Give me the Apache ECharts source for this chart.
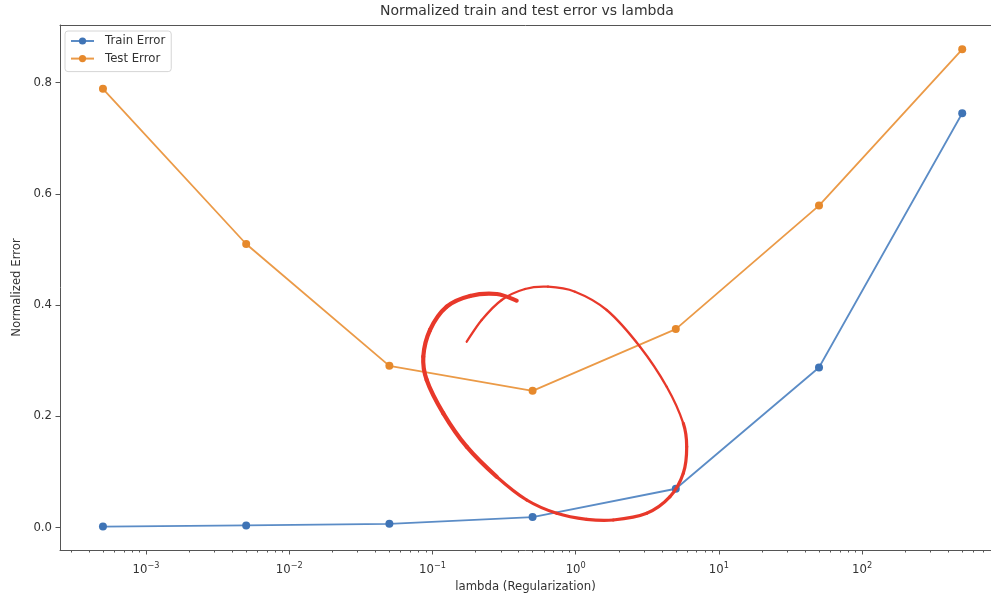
<!DOCTYPE html>
<html>
<head>
<meta charset="utf-8">
<title>Normalized train and test error vs lambda</title>
<script src="https://cdn.jsdelivr.net/npm/echarts@6/dist/echarts.min.js"></script>
<style>
  html, body { margin: 0; padding: 0; background: #ffffff; }
  #chart { width: 991px; height: 595px; }
</style>
</head>
<body>
<div id="chart"></div>
<script>
// Regularization strengths and the normalized errors measured at each one
const lambdas = [5e-4, 5e-3, 5e-2, 5e-1, 5, 50, 500];
const trainError = [0.002, 0.004, 0.007, 0.019, 0.070, 0.288, 0.745];
const testError = [0.789, 0.510, 0.291, 0.246, 0.357, 0.579, 0.860];

// Axis tick values
const yTicks = [0, 0.2, 0.4, 0.6, 0.8];
const xMajorTicks = [1e-3, 1e-2, 1e-1, 1, 10, 100];
const minorMultipliers = [2, 3, 4, 5, 6, 7, 8, 9];

// visible log-axis extent (in decades); the plot runs off the right edge of the page
const xMin = Math.pow(10, -3.601);
const xMax = Math.pow(10, 2.900);
const yMin = -0.0401;
const yMax = 0.9037;

const xMinorTicks = [];
for (let e = -4; e <= 2; e++) {
  minorMultipliers.forEach(function (m) {
    const v = m * Math.pow(10, e);
    if (v > xMin && v < xMax) xMinorTicks.push(v);
  });
}

const toPairs = (xs, ys) => xs.map((x, i) => [x, ys[i]]);

const FONT = 'DejaVu Sans';
const TEXT = '#333333';
const SPINE = '#555555';

const chart = echarts.init(document.getElementById('chart'), null, { renderer: 'canvas' });

// hand-drawn red loop around the minimum of the test error
const RED = '#e8382a';
const loopPoints = [
  [466.7,341.7],[481.7,320],[501.7,300],[525,289],[548,286.7],[575,291.7],[606.7,310],[640,346.7],[666.7,386.7],[683.3,423.3],
  [686.7,446.7],[683.3,473.3],[670,496.7],[646.7,513.3],[613.3,520],[586.7,519.3],[556.7,513.3],[526.7,500],[496.7,476.7],
  [466.7,446.7],[443.3,413.3],[426.7,380],[423.3,356.7],[430,330],[446.7,306.7],[470,296],[496.7,294],[516.7,300.7]
];
// Catmull-Rom pieces through the pen points; pen width grows along the stroke
function loopPieces(from, to, width) {
  const P = loopPoints;
  const at = (i) => P[Math.max(0, Math.min(P.length - 1, i))];
  const pieces = [];
  for (let i = from; i < to; i++) {
    const p0 = at(i - 1), p1 = at(i), p2 = at(i + 1), p3 = at(i + 2);
    pieces.push({
      type: 'bezierCurve',
      z: 100,
      silent: true,
      shape: {
        x1: p1[0], y1: p1[1],
        x2: p2[0], y2: p2[1],
        cpx1: p1[0] + (p2[0] - p0[0]) / 6, cpy1: p1[1] + (p2[1] - p0[1]) / 6,
        cpx2: p2[0] - (p3[0] - p1[0]) / 6, cpy2: p2[1] - (p3[1] - p1[1]) / 6
      },
      style: { stroke: RED, lineWidth: width, fill: null, lineCap: 'round' }
    });
  }
  return pieces;
}

const option = {
  backgroundColor: '#ffffff',
  animation: false,
  title: {
    text: 'Normalized train and test error vs lambda',
    left: 527,
    top: 4,
    padding: 0,
    textAlign: 'center',
    textStyle: { fontFamily: FONT, fontSize: 14, fontWeight: 'normal', color: TEXT }
  },
  legend: {
    orient: 'vertical',
    left: 65,
    top: 31,
    padding: [3, 6, 6, 5],
    itemGap: 3.6,
    itemWidth: 23,
    itemHeight: 9,
    backgroundColor: '#ffffff',
    borderColor: '#d6d6d6',
    borderWidth: 1,
    borderRadius: 3,
    data: ['Train Error', 'Test Error'],
    textStyle: { fontFamily: FONT, fontSize: 11.7, color: TEXT, lineHeight: 14, padding: [0, 0, 0, 6] }
  },
  grid: {
    left: 60,
    top: 25,
    right: 0,
    bottom: 45,
    show: false,
    containLabel: false,
    outerBoundsMode: 'none'
  },
  xAxis: [
    {
      type: 'log',
      logBase: 10,
      min: xMin,
      max: xMax,
      position: 'bottom',
      name: 'lambda (Regularization)',
      nameLocation: 'middle',
      nameGap: 30,
      nameTextStyle: { fontFamily: FONT, fontSize: 11.7, color: TEXT },
      axisLine: { onZero: false, lineStyle: { color: SPINE, width: 1 } },
      axisTick: { show: true, length: 4.5, customValues: xMajorTicks, lineStyle: { color: SPINE } },
      axisLabel: {
        customValues: xMajorTicks,
        margin: 12,
        formatter: function (v) {
          const k = Math.round(Math.log10(v));
          return '{b|10}{s|' + (k < 0 ? '\u2212' : '') + Math.abs(k) + '}';
        },
        rich: {
          b: { fontFamily: FONT, fontSize: 11.7, color: TEXT },
          s: { fontFamily: FONT, fontSize: 8.2, color: TEXT, padding: [0, 0, 8, 0] }
        }
      },
      splitLine: { show: false },
      minorTick: { show: false }
    },
    {
      // minor decade ticks
      type: 'log',
      logBase: 10,
      min: xMin,
      max: xMax,
      position: 'bottom',
      axisLine: { show: false, onZero: false },
      axisTick: { show: true, length: 2.5, customValues: xMinorTicks, lineStyle: { color: SPINE } },
      axisLabel: { show: false },
      splitLine: { show: false }
    },
    {
      // top spine
      type: 'log',
      logBase: 10,
      min: xMin,
      max: xMax,
      position: 'top',
      axisLine: { show: true, onZero: false, lineStyle: { color: SPINE, width: 1 } },
      axisTick: { show: false },
      axisLabel: { show: false },
      splitLine: { show: false }
    }
  ],
  yAxis: {
    type: 'value',
    min: yMin,
    max: yMax,
    name: 'Normalized Error',
    nameLocation: 'middle',
    nameGap: 34,
    nameTextStyle: { fontFamily: FONT, fontSize: 11.7, color: TEXT },
    axisLine: { show: true, onZero: false, lineStyle: { color: SPINE, width: 1 } },
    axisTick: { show: true, length: 4.5, customValues: yTicks, lineStyle: { color: SPINE } },
    axisLabel: {
      customValues: yTicks,
      margin: 8,
      fontFamily: FONT,
      fontSize: 11.7,
      color: TEXT,
      formatter: (v) => v.toFixed(1)
    },
    splitLine: { show: false }
  },
  series: [
    {
      name: 'Train Error',
      type: 'line',
      xAxisIndex: 0,
      data: toPairs(lambdas, trainError),
      symbol: 'circle',
      symbolSize: 8,
      itemStyle: { color: '#3f74b6' },
      lineStyle: { color: '#5b8cc6', width: 1.8 },
      z: 3
    },
    {
      name: 'Test Error',
      type: 'line',
      xAxisIndex: 0,
      data: toPairs(lambdas, testError),
      symbol: 'circle',
      symbolSize: 8,
      itemStyle: { color: '#e6892c' },
      lineStyle: { color: '#eb9a47', width: 1.8 },
      z: 3
    }
  ],
  graphic: [].concat(
    loopPieces(0, 9, 2.3),
    loopPieces(9, 18, 3.2),
    loopPieces(18, 27, 4.2)
  )
};

chart.setOption(option);
</script>
</body>
</html>
